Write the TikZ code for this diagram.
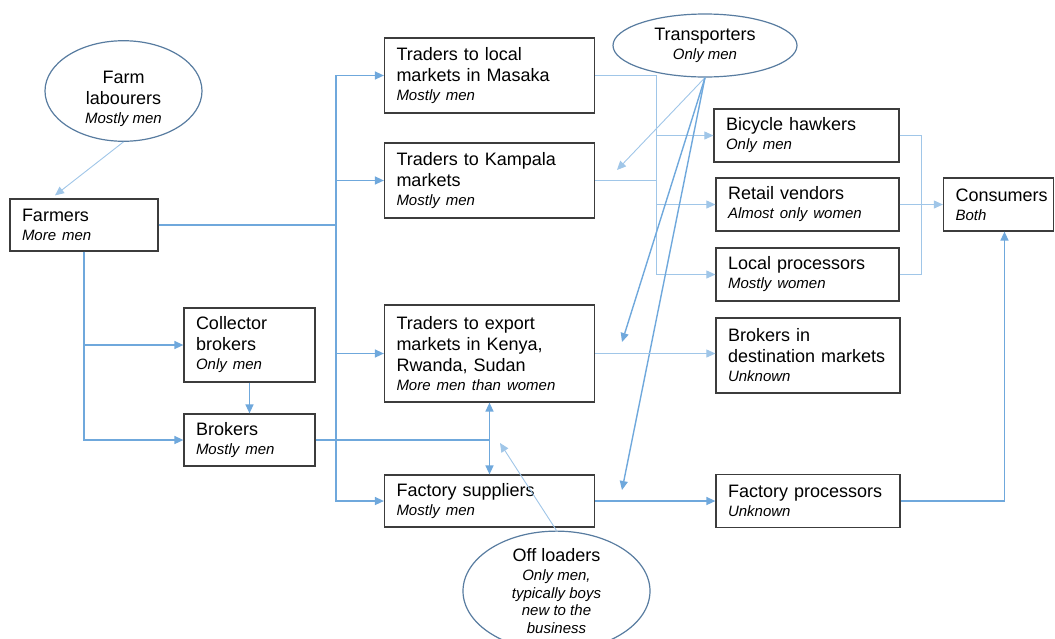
\documentclass[tikz,border=0pt]{standalone}
\usepackage{fontspec}
\setmainfont{Liberation Sans}
\usetikzlibrary{arrows.meta,shapes.geometric,positioning}

\definecolor{boxline}{RGB}{60,60,60}
\definecolor{ellline}{RGB}{88,124,160}
\definecolor{flowblue}{RGB}{111,168,220}
\definecolor{flowlight}{RGB}{160,198,232}

\newcommand{\who}[2][-2pt]{\\[#1]{\fontsize{15}{18}\selectfont\itshape #2}}

\tikzset{
  actor/.style={draw=boxline,line width=1.2pt,fill=white,align=left,inner xsep=12pt,
    font=\fontsize{18}{21}\selectfont},
  group/.style={ellipse,draw=ellline,line width=1.2pt,fill=white,align=center,inner sep=0pt,
    font=\fontsize{18}{21}\selectfont},
  flow/.style={draw=flowblue,line width=1.4pt,-{Triangle[length=9pt,width=8pt]}},
  thinflow/.style={flow,draw=flowlight,line width=0.9pt},
}

\begin{document}
\begin{tikzpicture}[x=1pt,y=-1pt]
  \useasboundingbox (0,0) rectangle (1055,638);

  % ellipses
  \node[group,minimum width=157pt,minimum height=88pt] (labourers) at (123.5,91)
    {\rule{0pt}{28pt}Farm\\labourers\who{Mostly men}};
  \node[group,minimum width=184pt,minimum height=63pt] (transporters) at (705,45.5)
    {Transporters\who{Only men}};
  \node[group,minimum width=187pt,minimum height=110pt] (offloaders) at (556.5,591)
    {Off loaders\who{Only men,}\who[-3.5pt]{typically boys}\who[-3.5pt]{new to the}\who[-3.5pt]{business}};

  % left column
  \node[actor,text width=124pt,minimum height=52pt] (farmers) at (84,225)
    {Farmers\who{More men}};
  \node[actor,text width=107pt,minimum height=74pt] (collector) at (249.5,345)
    {Collector\\brokers\who{Only men}};
  \node[actor,text width=107pt,minimum height=52pt] (brokers) at (249.5,440)
    {Brokers\who{Mostly men}};

  % traders
  \node[actor,text width=186pt,minimum height=75pt] (masaka) at (489.5,75.5)
    {Traders to local\\markets in Masaka\who{Mostly men}};
  \node[actor,text width=186pt,minimum height=75pt] (kampala) at (489.5,180.5)
    {Traders to Kampala\\markets\who{Mostly men}};
  \node[actor,text width=186pt,minimum height=97pt] (export) at (489.5,353.5)
    {Traders to export\\markets in Kenya,\\Rwanda, Sudan\who{More men than women}};
  \node[actor,text width=186pt,minimum height=52pt] (suppliers) at (489.5,501)
    {Factory suppliers\who{Mostly men}};

  % buyers
  \node[actor,text width=161pt,minimum height=53pt] (hawkers) at (806.5,135.5)
    {Bicycle hawkers\who{Only men}};
  \node[actor,text width=159pt,minimum height=53pt] (retail) at (807.5,204.5)
    {Retail vendors\who{Almost only women}};
  \node[actor,text width=159pt,minimum height=53pt] (localproc) at (807.5,274.5)
    {Local processors\who{Mostly women}};
  \node[actor,text width=160pt,minimum height=75pt] (destbrokers) at (808,355.5)
    {Brokers in\\destination markets\who{Unknown}};
  \node[actor,text width=160pt,minimum height=53pt] (factproc) at (808,501)
    {Factory processors\who{Unknown}};
  \node[actor,text width=86pt,minimum height=53pt] (consumers) at (998.5,204.5)
    {Consumers\who{Both}};

  % junctions
  \coordinate (fbus) at (336,225);
  \coordinate (bjoin) at (export.south |- brokers.east);
  \coordinate (tbus) at (656,180.5);
  \coordinate (cbus) at (921,204.5);
  \coordinate (offtip) at (500,443);
  \coordinate (kamtip) at (617,170);
  \coordinate (exptip) at (622,342);
  \coordinate (suptip) at (622,490);

  % farmers
  \draw[thinflow] (labourers.south) -- ([xshift=-29pt,yshift=3pt]farmers.north);
  \draw[flow,-] (farmers.east) -- (fbus);
  \draw[flow] (fbus) |- (masaka.west);
  \draw[flow] (fbus) |- (kampala.west);
  \draw[flow] (fbus) |- (export.west);
  \draw[flow] (fbus) |- (suppliers.west);
  \draw[flow] (farmers.south) |- (collector.west);
  \draw[flow] (farmers.south) |- (brokers.west);
  \draw[flow] (collector.south) -- (brokers.north);

  % brokers to traders
  \draw[flow,-] (brokers.east) -- (bjoin);
  \draw[flow] (bjoin) -- (export.south);
  \draw[flow] (bjoin) -- (suppliers.north);
  \draw[thinflow] (offloaders.north) -- (offtip);

  % local trade
  \draw[thinflow,-] (masaka.east) -| (tbus);
  \draw[thinflow,-] (kampala.east) -- (tbus);
  \draw[thinflow] (tbus) |- (hawkers.west);
  \draw[thinflow] (tbus) |- (retail.west);
  \draw[thinflow] (tbus) |- (localproc.west);
  \draw[thinflow,-] (hawkers.east) -| (cbus);
  \draw[thinflow,-] (localproc.east) -| (cbus);
  \draw[thinflow] (retail.east) -- (consumers.west);

  % transporters
  \draw[thinflow] (transporters.south) -- (kamtip);
  \draw[flow] (transporters.south) -- (exptip);
  \draw[flow] (transporters.south) -- (suptip);

  % export and factory
  \draw[thinflow] (export.east) -- (export.east -| destbrokers.west);
  \draw[flow] (suppliers.east) -- (factproc.west);
  \draw[flow] (factproc.east) -| ([xshift=6pt]consumers.south);
\end{tikzpicture}
\end{document}
